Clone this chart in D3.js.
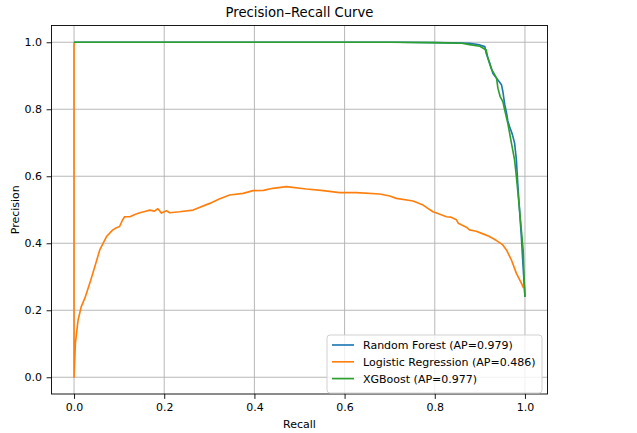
<!DOCTYPE html>
<html>
<head>
<meta charset="utf-8">
<script src="https://cdn.jsdelivr.net/npm/d3@7"></script>
<style>
  body { margin: 0; background: #fff; }
  text { font-family: "DejaVu Sans", sans-serif; fill: #000; }
</style>
</head>
<body>
<div id="chart"></div>
<script>
// recall / precision pairs
var rfRecall = [0, 0.72, 0.80, 0.84, 0.877, 0.90, 0.911, 0.914, 0.922, 0.929, 0.940, 0.948, 0.951, 0.955, 0.959, 0.962, 0.966, 0.972, 0.977, 0.981, 0.984, 0.988, 0.992, 0.995, 1.0];
var rfPrecision = [1, 1, 0.999, 0.998, 0.997, 0.992, 0.987, 0.967, 0.937, 0.907, 0.887, 0.873, 0.853, 0.815, 0.79, 0.765, 0.748, 0.725, 0.699, 0.649, 0.579, 0.498, 0.42, 0.35, 0.24];

var lrRecall = [0, 0, 0.003, 0.009, 0.016, 0.024, 0.035, 0.046, 0.057, 0.072, 0.086, 0.094, 0.101, 0.107, 0.112, 0.124, 0.135, 0.146, 0.157, 0.168, 0.178, 0.186, 0.194, 0.205, 0.212, 0.234, 0.264, 0.301, 0.322, 0.345, 0.375, 0.397, 0.420, 0.441, 0.471, 0.515, 0.548, 0.589, 0.626, 0.678, 0.700, 0.715, 0.752, 0.774, 0.796, 0.804, 0.826, 0.835, 0.848, 0.852, 0.859, 0.870, 0.877, 0.892, 0.907, 0.920, 0.937, 0.950, 0.959, 0.970, 0.981, 0.992, 0.997];
var lrPrecision = [1, 0, 0.102, 0.171, 0.211, 0.236, 0.281, 0.330, 0.380, 0.420, 0.440, 0.446, 0.450, 0.468, 0.479, 0.479, 0.486, 0.491, 0.495, 0.499, 0.496, 0.503, 0.490, 0.497, 0.491, 0.494, 0.499, 0.519, 0.532, 0.544, 0.549, 0.557, 0.558, 0.564, 0.569, 0.562, 0.558, 0.551, 0.551, 0.547, 0.541, 0.534, 0.526, 0.514, 0.494, 0.490, 0.479, 0.478, 0.470, 0.460, 0.455, 0.448, 0.440, 0.436, 0.428, 0.421, 0.408, 0.396, 0.380, 0.350, 0.310, 0.281, 0.266];

var xgbRecall = [0, 0.70, 0.80, 0.86, 0.877, 0.90, 0.914, 0.918, 0.925, 0.937, 0.940, 0.945, 0.951, 0.955, 0.962, 0.970, 0.977, 0.981, 0.988, 0.996, 0.998, 1.0];
var xgbPrecision = [1, 1, 0.999, 0.997, 0.993, 0.988, 0.977, 0.952, 0.922, 0.893, 0.863, 0.838, 0.823, 0.798, 0.758, 0.699, 0.649, 0.599, 0.5, 0.38, 0.30, 0.24];

var seriesNames = ["Random Forest (AP=0.979)", "Logistic Regression (AP=0.486)", "XGBoost (AP=0.977)"];
var seriesColors = ["#1f77b4", "#ff7f0e", "#2ca02c"];
var tickValues = [0, 0.2, 0.4, 0.6, 0.8, 1.0];

var W = 637, H = 433;
var plot = { left: 51.5, right: 547.5, top: 25.5, bottom: 394 };

var svg = d3.select("#chart").append("svg")
    .attr("width", W)
    .attr("height", H);

var xScale = d3.scaleLinear().domain([-0.05, 1.05]).range([plot.left, plot.right]);
var yScale = d3.scaleLinear().domain([-0.05, 1.05]).range([plot.bottom, plot.top]);

// grid
var grid = svg.append("g");
tickValues.forEach(function (t) {
    grid.append("line")
        .attr("x1", xScale(t)).attr("x2", xScale(t))
        .attr("y1", plot.top).attr("y2", plot.bottom)
        .attr("stroke", "#b0b0b0").attr("stroke-width", 0.9);
    grid.append("line")
        .attr("x1", plot.left).attr("x2", plot.right)
        .attr("y1", yScale(t)).attr("y2", yScale(t))
        .attr("stroke", "#b0b0b0").attr("stroke-width", 0.9);
});

// curves
function zip(xs, ys) {
    return xs.map(function (x, i) { return [x, ys[i]]; });
}
var series = [zip(rfRecall, rfPrecision), zip(lrRecall, lrPrecision), zip(xgbRecall, xgbPrecision)];

var line = d3.line()
    .x(function (d) { return xScale(d[0]); })
    .y(function (d) { return yScale(d[1]); });

svg.append("clipPath").attr("id", "plotClip")
    .append("rect")
    .attr("x", plot.left).attr("y", plot.top)
    .attr("width", plot.right - plot.left).attr("height", plot.bottom - plot.top);

svg.append("g").attr("clip-path", "url(#plotClip)")
    .selectAll("path")
    .data(series)
    .enter()
    .append("path")
        .attr("d", line)
        .attr("fill", "none")
        .attr("stroke", function (d, i) { return seriesColors[i]; })
        .attr("stroke-width", 1.65)
        .attr("stroke-linejoin", "round");

// axes
var xAxis = d3.axisBottom(xScale).tickValues(tickValues).tickSize(4.9).tickPadding(4.5)
    .tickFormat(d3.format(".1f"));
var yAxis = d3.axisLeft(yScale).tickValues(tickValues).tickSize(4.9).tickPadding(4.5)
    .tickFormat(d3.format(".1f"));

var xg = svg.append("g").attr("transform", "translate(0," + plot.bottom + ")").call(xAxis);
var yg = svg.append("g").attr("transform", "translate(" + plot.left + ",0)").call(yAxis);
[xg, yg].forEach(function (g) {
    g.select(".domain").remove();
    g.selectAll(".tick line").attr("stroke", "#000").attr("stroke-width", 0.9);
    g.selectAll(".tick text").attr("font-size", "11px").attr("fill", "#000")
        .attr("font-family", "DejaVu Sans, sans-serif");
});

// frame
svg.append("rect")
    .attr("x", plot.left).attr("y", plot.top)
    .attr("width", plot.right - plot.left).attr("height", plot.bottom - plot.top)
    .attr("fill", "none").attr("stroke", "#000").attr("stroke-width", 0.9);

// titles
svg.append("text")
    .attr("x", (plot.left + plot.right) / 2).attr("y", 17)
    .attr("text-anchor", "middle").attr("font-size", "13.2px")
    .text("Precision\u2013Recall Curve");

svg.append("text")
    .attr("x", (plot.left + plot.right) / 2).attr("y", 428)
    .attr("text-anchor", "middle").attr("font-size", "11px")
    .text("Recall");

svg.append("text")
    .attr("transform", "translate(19," + ((plot.top + plot.bottom) / 2) + ") rotate(-90)")
    .attr("text-anchor", "middle").attr("font-size", "11px")
    .text("Precision");

// legend
var legend = svg.append("g").attr("transform", "translate(327,335)");
legend.append("rect")
    .attr("width", 215).attr("height", 58)
    .attr("rx", 3).attr("ry", 3)
    .attr("fill", "#fff").attr("fill-opacity", 0.8)
    .attr("stroke", "#cccccc").attr("stroke-width", 0.9);

var items = legend.selectAll(".item")
    .data(seriesNames)
    .enter()
    .append("g")
        .attr("class", "item")
        .attr("transform", function (d, i) { return "translate(0," + (10 + i * 16.8) + ")"; });

items.append("line")
    .attr("x1", 5).attr("x2", 27)
    .attr("stroke", function (d, i) { return seriesColors[i]; })
    .attr("stroke-width", 1.65);

items.append("text")
    .attr("x", 36).attr("y", 4)
    .attr("font-size", "11px")
    .text(function (d) { return d; });
</script>
</body>
</html>
